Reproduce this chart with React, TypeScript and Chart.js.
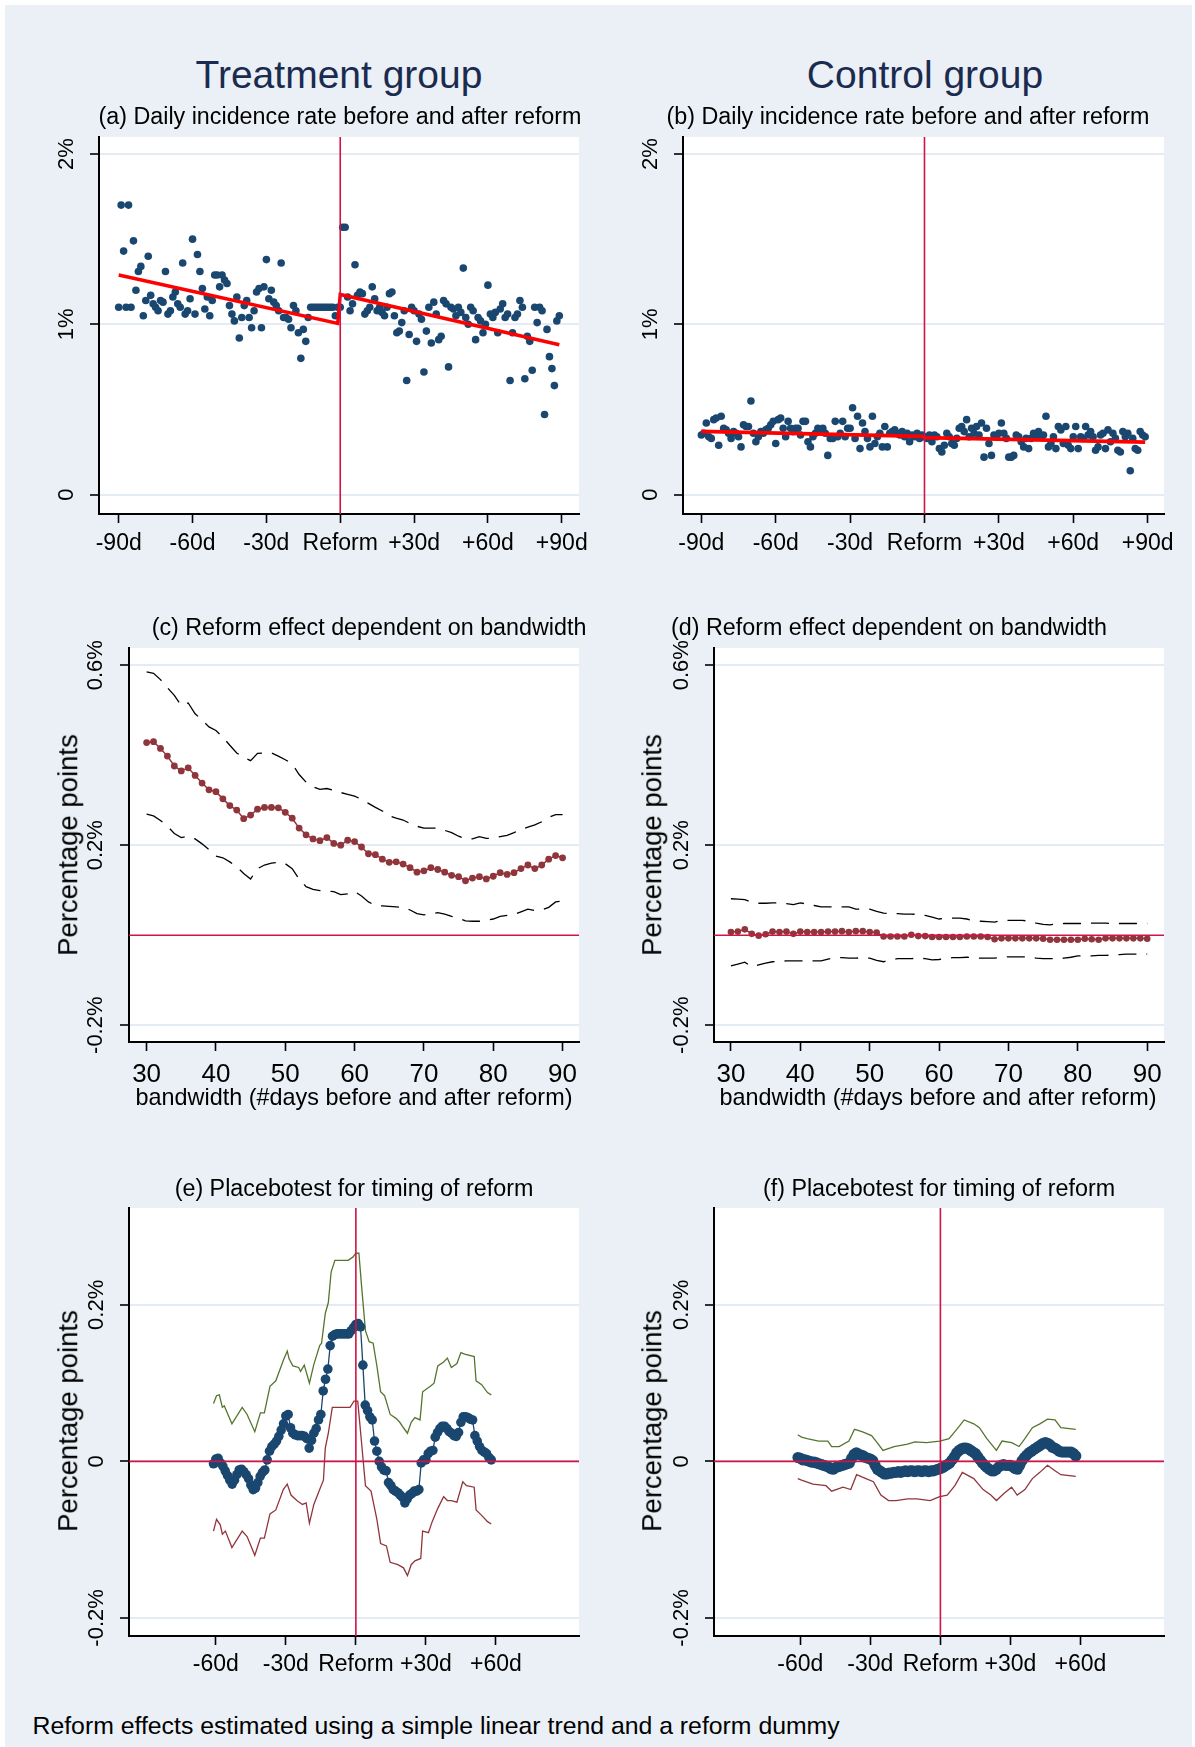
import React, { useEffect, useRef } from "react";
import { Chart, registerables } from "chart.js";

Chart.register(...registerables);

const FONT = '"Liberation Sans", Arial, Helvetica, sans-serif';
const NAVY = "#1a476f";
const MAROON = "#90353b";
const GREEN = "#55752f";
const REFRED = "#cf1546";
const FITRED = "#ff0000";
const GRID = "#e4ebf2";
const BG = "#eaf0f6";
const TITLE = "#1b2b50";

// ---------------- data ----------------
// (a)/(b) daily incidence rate (%), one value per day
const preStartDay = -90;
const postStartDay = 0;
const treatPre = [
  1.10, 1.70, 1.43, 1.10, 1.70, 1.10, 1.49, 1.20, 1.31, 1.34,
  1.05, 1.14, 1.40, 1.17, 1.12, 1.10, 1.08, 1.14, 1.13, 1.31,
  1.06, 1.08, 1.16, 1.19, 1.12, 1.10, 1.36, 1.06, 1.08, 1.15,
  1.50, 1.06, 1.41, 1.31, 1.21, 1.09, 1.16, 1.05, 1.14, 1.29,
  1.29, 1.22, 1.29, 1.26, 1.24, 1.11, 1.06, 1.02, 1.16, 0.92,
  1.04, 1.11, 1.14, 1.04, 0.98, 1.08, 1.19, 1.21, 0.98, 1.22,
  1.38, 1.15, 1.20, 1.13, 1.11, 1.08, 1.36, 1.04, 1.04, 1.03,
  0.98, 1.11, 1.08, 0.95, 0.80, 0.97, 0.90, 1.04, 1.10, 1.10,
  1.10, 1.10, 1.10, 1.10, 1.10, 1.10, 1.10, 1.10, 1.05, 1.10,
];
const treatPost = [
  1.10, 1.57, 1.57, 1.16, 1.08, 1.12, 1.35, 1.17, 1.19, 1.18,
  1.06, 1.08, 1.10, 1.22, 1.15, 1.08, 1.10, 1.07, 1.05, 1.10,
  1.18, 1.19, 1.05, 0.95, 0.96, 1.01, 1.08, 0.67, 0.94, 1.10,
  1.08, 0.90, 1.06, 1.03, 0.72, 0.96, 1.10, 0.89, 1.13, 1.06,
  0.91, 0.93, 1.14, 1.12, 0.75, 1.10, 1.09, 1.05, 1.10, 1.07,
  1.33, 1.04, 1.00, 1.10, 1.08, 0.91, 1.04, 1.02, 0.95, 1.00,
  1.23, 1.06, 1.04, 1.07, 0.95, 1.09, 1.12, 1.04, 1.06, 0.67,
  0.95, 1.04, 1.06, 1.14, 1.10, 0.68, 0.93, 0.90, 0.73, 1.10,
  1.01, 1.10, 1.08, 0.47, 0.97, 0.81, 0.74, 0.64, 1.02, 1.05,
];
const controlPre = [
  0.35, 0.36, 0.42, 0.34, 0.33, 0.44, 0.45, 0.29, 0.46, 0.39,
  0.38, 0.36, 0.33, 0.37, 0.36, 0.34, 0.28, 0.41, 0.40, 0.40,
  0.55, 0.36, 0.31, 0.34, 0.37, 0.36, 0.38, 0.39, 0.41, 0.43,
  0.30, 0.44, 0.45, 0.39, 0.34, 0.43, 0.39, 0.37, 0.39, 0.39,
  0.35, 0.43, 0.43, 0.31, 0.28, 0.34, 0.36, 0.39, 0.38, 0.39,
  0.36, 0.23, 0.33, 0.33, 0.43, 0.34, 0.36, 0.43, 0.34, 0.39,
  0.39, 0.51, 0.33, 0.46, 0.27, 0.42, 0.37, 0.33, 0.28, 0.46,
  0.30, 0.34, 0.36, 0.28, 0.40, 0.28, 0.36, 0.37, 0.38, 0.36,
  0.35, 0.37, 0.34, 0.36, 0.31, 0.35, 0.34, 0.36, 0.33, 0.35,
];
const controlPost = [
  0.34, 0.33, 0.35, 0.31, 0.35, 0.34, 0.27, 0.25, 0.29, 0.36,
  0.34, 0.30, 0.29, 0.33, 0.39, 0.40, 0.37, 0.44, 0.34, 0.39,
  0.36, 0.40, 0.35, 0.42, 0.22, 0.39, 0.30, 0.23, 0.35, 0.34,
  0.36, 0.42, 0.36, 0.33, 0.22, 0.22, 0.23, 0.35, 0.34, 0.31,
  0.28, 0.33, 0.27, 0.33, 0.36, 0.35, 0.37, 0.34, 0.35, 0.46,
  0.28, 0.30, 0.34, 0.27, 0.40, 0.38, 0.30, 0.40, 0.29, 0.27,
  0.34, 0.40, 0.27, 0.34, 0.33, 0.40, 0.35, 0.37, 0.34, 0.26,
  0.28, 0.35, 0.36, 0.27, 0.38, 0.31, 0.36, 0.33, 0.26, 0.25,
  0.37, 0.34, 0.36, 0.14, 0.33, 0.27, 0.26, 0.37, 0.35, 0.34,
];
const fitDays = [-90, -1, 0, 89];
const treatFit = [1.29, 1.005, 1.175, 0.88];
const controlFit = [0.371, 0.342, 0.335, 0.308];

// (c)/(d) reform effect by bandwidth (percentage points), bandwidth 30..90
const bwStart = 30;
const bwTreatEffect = [
  0.428, 0.430, 0.415, 0.398, 0.376, 0.365, 0.372, 0.355, 0.338, 0.323,
  0.319, 0.303, 0.288, 0.278, 0.259, 0.267, 0.280, 0.284, 0.284, 0.283,
  0.273, 0.260, 0.238, 0.223, 0.214, 0.210, 0.217, 0.204, 0.200, 0.211,
  0.208, 0.196, 0.181, 0.179, 0.169, 0.162, 0.163, 0.158, 0.150, 0.140,
  0.143, 0.150, 0.146, 0.140, 0.133, 0.130, 0.121, 0.127, 0.130, 0.125,
  0.131, 0.139, 0.135, 0.139, 0.148, 0.156, 0.148, 0.156, 0.169, 0.177,
  0.172,
];
const bwTreatUpper = [
  0.585, 0.582, 0.568, 0.550, 0.533, 0.510, 0.516, 0.492, 0.478, 0.463,
  0.455, 0.440, 0.422, 0.405, 0.395, 0.388, 0.404, 0.405, 0.405, 0.398,
  0.390, 0.381, 0.357, 0.340, 0.330, 0.324, 0.326, 0.322, 0.317, 0.313,
  0.309, 0.302, 0.293, 0.284, 0.276, 0.265, 0.260, 0.256, 0.248, 0.242,
  0.238, 0.238, 0.238, 0.233, 0.228, 0.220, 0.214, 0.214, 0.219, 0.215,
  0.216, 0.219, 0.222, 0.228, 0.235, 0.240, 0.245, 0.252, 0.262, 0.268,
  0.268,
];
const bwTreatLower = [
  0.269, 0.265, 0.255, 0.242, 0.226, 0.217, 0.220, 0.214, 0.203, 0.190,
  0.176, 0.172, 0.163, 0.152, 0.137, 0.125, 0.148, 0.156, 0.160, 0.162,
  0.159, 0.148, 0.125, 0.108, 0.102, 0.099, 0.098, 0.097, 0.090, 0.092,
  0.097, 0.087, 0.074, 0.066, 0.065, 0.064, 0.063, 0.062, 0.056, 0.048,
  0.045, 0.048, 0.050, 0.047, 0.042, 0.038, 0.032, 0.031, 0.031, 0.033,
  0.036, 0.042, 0.044, 0.046, 0.052, 0.058, 0.055, 0.056, 0.062, 0.074,
  0.076,
];
const bwControlEffect = [
  0.007, 0.008, 0.013, 0.003, -0.001, 0.002, 0.008, 0.007, 0.008, 0.003,
  0.008, 0.007, 0.007, 0.007, 0.008, 0.008, 0.009, 0.007, 0.009, 0.009,
  0.007, 0.006, -0.003, -0.003, -0.003, -0.003, 0.001, -0.002, -0.002, -0.004,
  -0.004, -0.004, -0.004, -0.004, -0.003, -0.003, -0.003, -0.004, -0.009, -0.007,
  -0.007, -0.007, -0.007, -0.007, -0.007, -0.008, -0.010, -0.010, -0.010, -0.010,
  -0.010, -0.008, -0.009, -0.010, -0.007, -0.007, -0.007, -0.007, -0.007, -0.007,
  -0.008,
];
const bwControlUpper = [
  0.081, 0.080, 0.079, 0.073, 0.071, 0.071, 0.072, 0.072, 0.070, 0.068,
  0.072, 0.069, 0.066, 0.063, 0.063, 0.063, 0.063, 0.063, 0.058, 0.058,
  0.058, 0.053, 0.049, 0.048, 0.048, 0.047, 0.047, 0.046, 0.044, 0.040,
  0.036, 0.038, 0.038, 0.038, 0.036, 0.032, 0.031, 0.030, 0.029, 0.033,
  0.033, 0.033, 0.033, 0.031, 0.027, 0.024, 0.023, 0.025, 0.026, 0.026,
  0.026, 0.026, 0.027, 0.027, 0.027, 0.026, 0.026, 0.026, 0.026, 0.026,
  0.026,
];
const bwControlLower = [
  -0.068, -0.064, -0.060, -0.070, -0.066, -0.062, -0.059, -0.058, -0.057, -0.057,
  -0.057, -0.057, -0.057, -0.057, -0.053, -0.050, -0.050, -0.051, -0.051, -0.050,
  -0.051, -0.056, -0.059, -0.055, -0.052, -0.052, -0.052, -0.051, -0.052, -0.055,
  -0.054, -0.051, -0.050, -0.050, -0.049, -0.050, -0.051, -0.051, -0.051, -0.049,
  -0.048, -0.048, -0.048, -0.048, -0.051, -0.052, -0.052, -0.052, -0.051, -0.049,
  -0.046, -0.046, -0.046, -0.045, -0.045, -0.044, -0.043, -0.042, -0.042, -0.042,
  -0.042,
];

// (e)/(f) placebo tests (percentage points), placebo day -61..58
const placeboStartDay = -61;
const placeboTreat = [
  -0.003, 0.003, 0.004, -0.002, -0.006, -0.012, -0.018, -0.024, -0.029, -0.024,
  -0.017, -0.011, -0.010, -0.013, -0.017, -0.022, -0.030, -0.036, -0.034, -0.027,
  -0.019, -0.014, -0.011, 0.002, 0.013, 0.019, 0.022, 0.026, 0.032, 0.040,
  0.048, 0.058, 0.060, 0.043, 0.036, 0.034, 0.033, 0.033, 0.033, 0.032,
  0.029, 0.017, 0.027, 0.036, 0.042, 0.053, 0.060, 0.090, 0.105, 0.118,
  0.148, 0.160, 0.162, 0.163, 0.163, 0.163, 0.163, 0.163, 0.163, 0.167,
  0.171, 0.175, 0.176, 0.172, 0.123, 0.072, 0.065, 0.057, 0.053, 0.026,
  0.013, 0.000, -0.007, -0.011, -0.012, -0.027, -0.031, -0.036, -0.038, -0.040,
  -0.043, -0.046, -0.053, -0.048, -0.043, -0.041, -0.038, -0.038, -0.036, -0.002,
  0.002, 0.002, 0.010, 0.013, 0.014, 0.031, 0.037, 0.042, 0.045, 0.045,
  0.042, 0.038, 0.036, 0.033, 0.032, 0.037, 0.050, 0.057, 0.057, 0.056,
  0.054, 0.053, 0.033, 0.026, 0.019, 0.014, 0.012, 0.010, 0.005, 0.002,
];
const placeboTreatUpperDays = [
  -61.0, -59.7, -58.5, -57.2, -56.4, -53.1, -48.7, -46.6, -43.3, -40.9, -39.2,
  -36.8, -34.3, -31.1, -29.4, -28.6, -27.0, -24.5, -23.7, -22.1, -19.9, -18.0,
  -15.5, -14.7, -13.1, -11.8, -10.6, -9.0, -3.3, -1.3, 0.0, 1.3, 2.5, 4.1, 5.7,
  7.4, 9.0, 10.6, 12.3, 14.7, 17.2, 18.8, 20.4, 22.1, 23.7, 25.3, 27.5, 28.6,
  31.9, 33.5, 35.1, 37.6, 39.2, 40.9, 43.3, 45.0, 46.6, 50.7, 51.5, 53.9, 56.4, 58.0,
];
const placeboTreatUpper = [
  0.074, 0.084, 0.085, 0.069, 0.071, 0.048, 0.069, 0.060, 0.038, 0.062, 0.062,
  0.096, 0.103, 0.129, 0.141, 0.131, 0.122, 0.120, 0.115, 0.123, 0.100, 0.124,
  0.148, 0.151, 0.189, 0.203, 0.242, 0.257, 0.257, 0.261, 0.266, 0.266, 0.222, 0.167, 0.153,
  0.151, 0.122, 0.089, 0.084, 0.060, 0.055, 0.050, 0.043, 0.036, 0.050, 0.056, 0.053, 0.089,
  0.096, 0.100, 0.122, 0.127, 0.132, 0.120, 0.125, 0.139, 0.137, 0.134, 0.103, 0.098, 0.088, 0.085,
];
const placeboTreatLowerDays = [
  -61.0, -59.7, -58.1, -57.2, -55.9, -53.1, -48.7, -46.6, -43.3, -40.9, -39.2,
  -36.8, -34.3, -31.1, -29.4, -27.8, -25.3, -22.9, -21.3, -19.9, -18.0, -15.5,
  -13.9, -13.1, -11.8, -10.1, -9.0, -2.5, -0.8, 0.8, 2.5, 4.1, 6.5, 9.0, 10.6,
  13.1, 14.7, 18.0, 20.4, 22.1, 23.7, 25.3, 27.8, 28.6, 31.1, 32.7, 35.1, 37.6,
  39.2, 40.9, 43.3, 45.8, 47.4, 50.7, 51.5, 53.9, 56.4, 58.0,
];
const placeboTreatLower = [
  -0.089, -0.074, -0.081, -0.093, -0.089, -0.110, -0.089, -0.096, -0.120, -0.098, -0.098,
  -0.067, -0.062, -0.036, -0.029, -0.043, -0.050, -0.055, -0.053, -0.079, -0.055, -0.036,
  -0.024, 0.017, 0.036, 0.069, 0.069, 0.069, 0.077, 0.077, 0.022, -0.031, -0.038, -0.074, -0.105,
  -0.108, -0.129, -0.132, -0.136, -0.146, -0.132, -0.127, -0.124, -0.089, -0.091, -0.077, -0.060, -0.045,
  -0.050, -0.050, -0.052, -0.026, -0.031, -0.033, -0.062, -0.069, -0.077, -0.080,
];
const placeboControl = [
  0.005, 0.004, 0.002, 0.002, 0.001, 0.000, -0.001, -0.001, -0.002, -0.003,
  -0.004, -0.005, -0.006, -0.007, -0.009, -0.010, -0.008, -0.007, -0.006, -0.005,
  -0.004, -0.003, -0.002, 0.004, 0.009, 0.011, 0.009, 0.008, 0.007, 0.005,
  0.004, 0.003, 0.001, -0.005, -0.010, -0.012, -0.014, -0.016, -0.016, -0.015,
  -0.015, -0.014, -0.014, -0.013, -0.014, -0.013, -0.012, -0.013, -0.012, -0.012,
  -0.013, -0.012, -0.012, -0.013, -0.012, -0.012, -0.013, -0.012, -0.012, -0.011,
  -0.010, -0.009, -0.008, -0.006, -0.004, -0.002, 0.002, 0.006, 0.011, 0.014,
  0.016, 0.017, 0.017, 0.016, 0.014, 0.012, 0.010, 0.006, 0.002, -0.002,
  -0.005, -0.008, -0.010, -0.012, -0.012, -0.010, -0.007, -0.005, -0.004, -0.005,
  -0.005, -0.005, -0.007, -0.009, -0.010, -0.005, 0.001, 0.005, 0.008, 0.011,
  0.013, 0.015, 0.017, 0.019, 0.021, 0.023, 0.024, 0.023, 0.021, 0.018,
  0.017, 0.015, 0.013, 0.012, 0.012, 0.012, 0.012, 0.012, 0.010, 0.007,
];
const placeboControlUpperDays = [
  -61.1, -59.5, -57.1, -52.2, -48.2, -46.6, -43.4, -39.2, -36.8, -33.6, -29.5, -27.1,
  -24.6, -19.8, -14.1, -10.9, -6.0, -0.3, 3.7, 7.0, 10.2, 14.3, 16.7, 19.9, 24.0,
  26.4, 30.5, 33.7, 36.2, 39.4, 42.6, 45.9, 49.1, 51.6, 58.0,
];
const placeboControlUpper = [
  0.034, 0.031, 0.029, 0.026, 0.026, 0.019, 0.019, 0.026, 0.041, 0.038, 0.033, 0.024,
  0.014, 0.019, 0.022, 0.025, 0.024, 0.026, 0.029, 0.041, 0.053, 0.048, 0.043, 0.029, 0.014,
  0.026, 0.024, 0.019, 0.029, 0.043, 0.048, 0.054, 0.053, 0.043, 0.041,
];
const placeboControlLowerDays = [
  -61.1, -59.5, -54.6, -49.0, -46.6, -41.7, -38.4, -35.9, -31.9, -28.7, -25.5, -22.2,
  -19.0, -14.1, -10.1, -4.4, -0.3, 2.9, 6.2, 9.4, 14.3, 18.3, 21.6, 24.0, 27.2,
  30.5, 32.9, 36.2, 39.4, 42.6, 45.9, 49.1, 51.6, 58.0,
];
const placeboControlLower = [
  -0.022, -0.024, -0.029, -0.031, -0.038, -0.033, -0.036, -0.017, -0.022, -0.026, -0.043, -0.050,
  -0.050, -0.048, -0.048, -0.050, -0.045, -0.043, -0.031, -0.014, -0.022, -0.036, -0.043, -0.050, -0.041,
  -0.033, -0.043, -0.036, -0.022, -0.014, -0.005, -0.012, -0.017, -0.019,
];

// ticks
const dayTicks = [-90, -60, -30, 0, 30, 60, 90];
const dayTickLabels = ["-90d", "-60d", "-30d", "Reform", "+30d", "+60d", "+90d"];
const placeboTicks = [-60, -30, 0, 30, 60];
const placeboTickLabels = ["-60d", "-30d", "Reform", "+30d", "+60d"];
const bwTicks = [30, 40, 50, 60, 70, 80, 90];
const bwTickLabels = ["30", "40", "50", "60", "70", "80", "90"];
const rateTicks = [0, 1, 2];
const rateTickLabels = ["0", "1%", "2%"];
const effectTicks = [-0.2, 0.2, 0.6];
const effectTickLabels = ["-0.2%", "0.2%", "0.6%"];
const placeboYTicks = [-0.2, 0, 0.2];
const placeboYTickLabels = ["-0.2%", "0", "0.2%"];

// ---------------- helpers ----------------
const seq = (start: number, vals: number[]) => vals.map((y, i) => ({ x: start + i, y }));
const pairs = (xs: number[], ys: number[]) => xs.map((x, i) => ({ x, y: ys[i] }));

const ML = 72, MT = 20, MR = 14, MB = 56;

type Box = { l: number; t: number; r: number; b: number };
type Spec = {
  box: Box;
  xMin: number; xMax: number; yMin: number; yMax: number;
  xTicks: number[]; xLabels: string[]; xFont: number; xOff: number;
  yTicks: number[]; yLabels: string[]; yFont: number; yOff: number;
  vline: boolean; hline: boolean;
  datasets: any[];
};

function Panel({ spec }: { spec: Spec }) {
  const ref = useRef<HTMLCanvasElement>(null);
  useEffect(() => {
    const s = spec;
    const bgPlugin = {
      id: "plotBg",
      beforeDraw(chart: any) {
        const { ctx, chartArea: a } = chart;
        ctx.save();
        ctx.fillStyle = "#ffffff";
        ctx.fillRect(a.left, a.top, a.right - a.left, a.bottom - a.top);
        ctx.restore();
      },
    };
    const refPlugin = {
      id: "refLines",
      afterDatasetsDraw(chart: any) {
        const { ctx, chartArea: a, scales } = chart;
        ctx.save();
        ctx.strokeStyle = REFRED;
        ctx.lineWidth = 1.6;
        if (s.vline) {
          const x = scales.x.getPixelForValue(0);
          ctx.beginPath(); ctx.moveTo(x, a.top); ctx.lineTo(x, a.bottom); ctx.stroke();
        }
        if (s.hline) {
          const y = scales.y.getPixelForValue(0);
          ctx.beginPath(); ctx.moveTo(a.left, y); ctx.lineTo(a.right, y); ctx.stroke();
        }
        ctx.restore();
      },
    };
    const labelPlugin = {
      id: "tickText",
      afterDraw(chart: any) {
        const { ctx, chartArea: a, scales } = chart;
        ctx.save();
        ctx.fillStyle = "#000";
        ctx.textAlign = "center";
        ctx.textBaseline = "middle";
        ctx.font = `${s.xFont}px ${FONT}`;
        s.xTicks.forEach((v, i) => {
          ctx.fillText(s.xLabels[i], scales.x.getPixelForValue(v), a.bottom + s.xOff);
        });
        ctx.font = `${s.yFont}px ${FONT}`;
        s.yTicks.forEach((v, i) => {
          ctx.save();
          ctx.translate(a.left - s.yOff, scales.y.getPixelForValue(v));
          ctx.rotate(-Math.PI / 2);
          ctx.fillText(s.yLabels[i], 0, 0);
          ctx.restore();
        });
        ctx.restore();
      },
    };
    const chart = new Chart(ref.current as HTMLCanvasElement, {
      type: "scatter",
      data: { datasets: s.datasets },
      options: {
        animation: false,
        responsive: false,
        devicePixelRatio: 1,
        events: [],
        layout: { padding: { left: 0, top: MT, right: MR, bottom: 0 } },
        plugins: { legend: { display: false }, tooltip: { enabled: false }, title: { display: false } },
        elements: { line: { tension: 0 } },
        scales: {
          x: {
            type: "linear",
            min: s.xMin,
            max: s.xMax,
            afterFit: (sc: any) => { sc.height = MB; },
            afterBuildTicks: (sc: any) => { sc.ticks = s.xTicks.map((value) => ({ value })); },
            ticks: { display: false },
            grid: { drawOnChartArea: false, drawTicks: true, tickLength: 9, tickColor: "#000", tickWidth: 1.6 },
            border: { display: true, color: "#000", width: 2 },
          },
          y: {
            type: "linear",
            min: s.yMin,
            max: s.yMax,
            afterFit: (sc: any) => { sc.width = ML; },
            afterBuildTicks: (sc: any) => { sc.ticks = s.yTicks.map((value) => ({ value })); },
            ticks: { display: false },
            grid: { color: GRID, lineWidth: 2, drawTicks: true, tickLength: 9, tickColor: "#000", tickWidth: 1.6 },
            border: { display: true, color: "#000", width: 2 },
          },
        },
      } as any,
      plugins: [bgPlugin, refPlugin, labelPlugin],
    });
    return () => chart.destroy();
  }, []);
  const { l, t, r, b } = spec.box;
  const w = r - l + ML + MR;
  const h = b - t + MT + MB;
  return (
    <canvas
      ref={ref}
      width={w}
      height={h}
      style={{ position: "absolute", left: l - ML, top: t - MT, width: w, height: h }}
    />
  );
}

const scatterSet = (data: any[], radius: number) => ({
  data, backgroundColor: NAVY, borderWidth: 0, pointRadius: radius, pointBorderWidth: 0, order: 1,
});
const lineSet = (data: any[], color: string, width: number, order: number, dash?: number[]) => ({
  data, showLine: true, borderColor: color, borderWidth: width, pointRadius: 0, order,
  borderDash: dash || [], fill: false,
});
const markLineSet = (data: any[], color: string, radius: number, lineWidth: number) => ({
  data, showLine: true, borderColor: color, backgroundColor: color, borderWidth: lineWidth,
  pointRadius: radius, pointBorderWidth: 0, order: 0,
});

const specs: Spec[] = [
  {
    box: { l: 99, t: 137, r: 579, b: 514 },
    xMin: -98, xMax: 97, yMin: -0.114, yMax: 2.1,
    xTicks: dayTicks, xLabels: dayTickLabels, xFont: 23, xOff: 29.5,
    yTicks: rateTicks, yLabels: rateTickLabels, yFont: 22, yOff: 32,
    vline: true, hline: false,
    datasets: [
      lineSet(pairs(fitDays, treatFit), FITRED, 3.5, 0),
      scatterSet(seq(preStartDay, treatPre).concat(seq(postStartDay, treatPost)), 3.8),
    ],
  },
  {
    box: { l: 683, t: 137, r: 1164, b: 514 },
    xMin: -97.4, xMax: 96.6, yMin: -0.114, yMax: 2.1,
    xTicks: dayTicks, xLabels: dayTickLabels, xFont: 23, xOff: 29.5,
    yTicks: rateTicks, yLabels: rateTickLabels, yFont: 22, yOff: 32,
    vline: true, hline: false,
    datasets: [
      lineSet(pairs(fitDays, controlFit), FITRED, 3.8, 0),
      scatterSet(seq(preStartDay, controlPre).concat(seq(postStartDay, controlPost)), 3.8),
    ],
  },
  {
    box: { l: 129, t: 648, r: 579, b: 1042 },
    xMin: 27.46, xMax: 92.37, yMin: -0.2373, yMax: 0.6382,
    xTicks: bwTicks, xLabels: bwTickLabels, xFont: 26, xOff: 33,
    yTicks: effectTicks, yLabels: effectTickLabels, yFont: 22, yOff: 33,
    vline: false, hline: true,
    datasets: [
      markLineSet(seq(bwStart, bwTreatEffect), MAROON, 3.4, 1.5),
      lineSet(seq(bwStart, bwTreatUpper), "#000", 1.3, 1, [18, 10]),
      lineSet(seq(bwStart, bwTreatLower), "#000", 1.3, 1, [18, 10]),
    ],
  },
  {
    box: { l: 714, t: 648, r: 1164, b: 1042 },
    xMin: 27.56, xMax: 92.42, yMin: -0.2373, yMax: 0.6382,
    xTicks: bwTicks, xLabels: bwTickLabels, xFont: 26, xOff: 33,
    yTicks: effectTicks, yLabels: effectTickLabels, yFont: 22, yOff: 32.5,
    vline: false, hline: true,
    datasets: [
      markLineSet(seq(bwStart, bwControlEffect), MAROON, 3.3, 1.5),
      lineSet(seq(bwStart, bwControlUpper), "#000", 1.3, 1, [18, 10]),
      lineSet(seq(bwStart, bwControlLower), "#000", 1.3, 1, [18, 10]),
    ],
  },
  {
    box: { l: 129, t: 1208, r: 579, b: 1636 },
    xMin: -97.2, xMax: 95.6, yMin: -0.2231, yMax: 0.3238,
    xTicks: placeboTicks, xLabels: placeboTickLabels, xFont: 23, xOff: 29,
    yTicks: placeboYTicks, yLabels: placeboYTickLabels, yFont: 22, yOff: 32.5,
    vline: true, hline: true,
    datasets: [
      markLineSet(seq(placeboStartDay, placeboTreat), NAVY, 4.8, 1.3),
      lineSet(pairs(placeboTreatUpperDays, placeboTreatUpper), GREEN, 1.3, 1),
      lineSet(pairs(placeboTreatLowerDays, placeboTreatLower), MAROON, 1.3, 1),
    ],
  },
  {
    box: { l: 714, t: 1208, r: 1164, b: 1636 },
    xMin: -97.0, xMax: 95.8, yMin: -0.2231, yMax: 0.3238,
    xTicks: placeboTicks, xLabels: placeboTickLabels, xFont: 23, xOff: 29,
    yTicks: placeboYTicks, yLabels: placeboYTickLabels, yFont: 22, yOff: 32.5,
    vline: true, hline: true,
    datasets: [
      markLineSet(seq(placeboStartDay, placeboControl), NAVY, 5.6, 1.3),
      lineSet(pairs(placeboControlUpperDays, placeboControlUpper), GREEN, 1.3, 1),
      lineSet(pairs(placeboControlLowerDays, placeboControlLower), MAROON, 1.3, 1),
    ],
  },
];

type Txt = { t: string; x: number; y: number; size: number; color?: string; rot?: boolean; left?: boolean };
const texts: Txt[] = [
  { t: "Treatment group", x: 339, y: 74, size: 39, color: TITLE },
  { t: "Control group", x: 925, y: 74, size: 39, color: TITLE },
  { t: "(a) Daily incidence rate before and after reform", x: 340, y: 117, size: 23.3 },
  { t: "(b) Daily incidence rate before and after reform", x: 908, y: 117, size: 23.3 },
  { t: "(c) Reform effect dependent on bandwidth", x: 369, y: 628, size: 23.3 },
  { t: "(d) Reform effect dependent on bandwidth", x: 889, y: 628, size: 23.3 },
  { t: "bandwidth (#days before and after reform)", x: 354, y: 1098, size: 23.4 },
  { t: "bandwidth (#days before and after reform)", x: 938, y: 1098, size: 23.4 },
  { t: "(e) Placebotest for timing of reform", x: 354, y: 1189, size: 23.3 },
  { t: "(f) Placebotest for timing of reform", x: 939, y: 1189, size: 23.3 },
  { t: "Percentage points", x: 68, y: 845, size: 27.5, rot: true },
  { t: "Percentage points", x: 652, y: 845, size: 27.5, rot: true },
  { t: "Percentage points", x: 68, y: 1421, size: 27.5, rot: true },
  { t: "Percentage points", x: 652, y: 1421, size: 27.5, rot: true },
  { t: "Reform effects estimated using a simple linear trend and a reform dummy", x: 32.5, y: 1726, size: 24.8, left: true },
];

export default function App() {
  return (
    <div style={{ position: "absolute", left: 0, top: 0, width: 1195, height: 1747, background: "#ffffff", overflow: "hidden", fontFamily: FONT }}>
      <div style={{ position: "absolute", left: 5, top: 5, width: 1187, height: 1742, background: BG }} />
      {specs.map((s, i) => (
        <Panel key={i} spec={s} />
      ))}
      {texts.map((tx, i) => (
        <div
          key={"t" + i}
          style={{
            position: "absolute",
            left: tx.x,
            top: tx.y,
            fontSize: tx.size,
            lineHeight: 1,
            whiteSpace: "nowrap",
            color: tx.color || "#000",
            fontFamily: FONT,
            transform: tx.left
              ? "translate(0,-50%)"
              : tx.rot
              ? "translate(-50%,-50%) rotate(-90deg)"
              : "translate(-50%,-50%)",
          }}
        >
          {tx.t}
        </div>
      ))}
    </div>
  );
}
